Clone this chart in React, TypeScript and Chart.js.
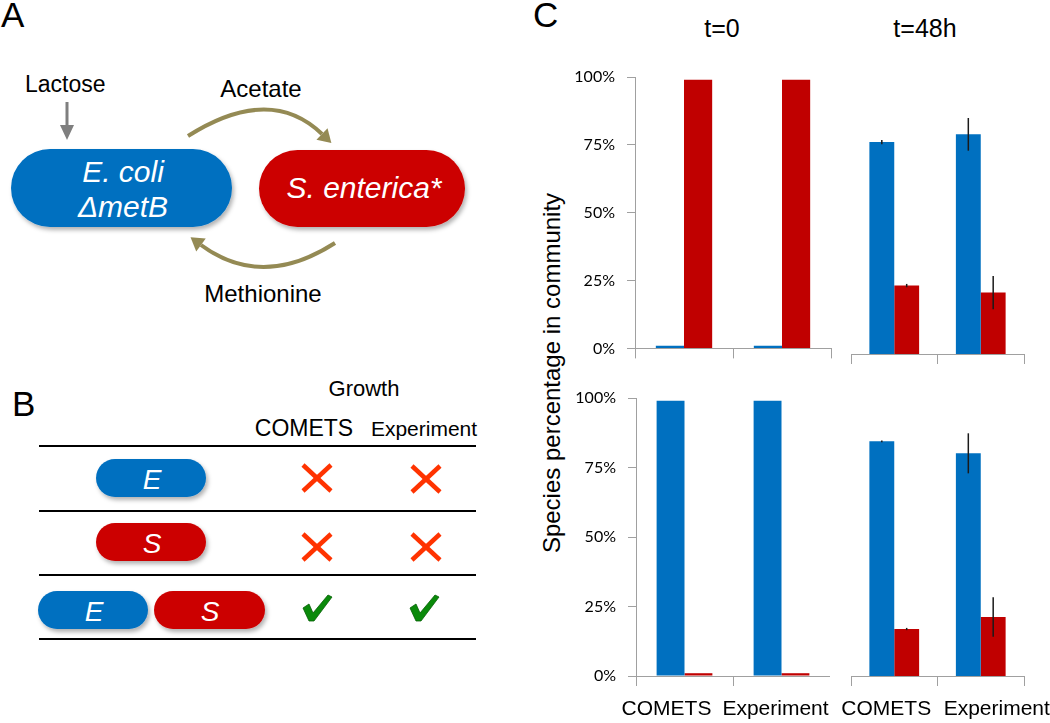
import React, { useEffect, useRef } from "react";
import { Chart, registerables } from "chart.js";

Chart.register(...registerables);

// ---------- DATA ----------
const categories = ["COMETS", "Experiment"];
const yTickValues = [0, 25, 50, 75, 100];

// Top row (initial ratio mostly S. enterica)
const topT0Ecoli = [1, 1];
const topT0Senterica = [99, 99];
const topT48Ecoli = [76.5, 79.3];
const topT48EcoliErr = [0.8, 5.9];
const topT48Senterica = [24.7, 22.2];
const topT48SentericaErr = [0.6, 6.0];

// Bottom row (initial ratio mostly E. coli)
const botT0Ecoli = [99, 99];
const botT0Senterica = [1, 1];
const botT48Ecoli = [84.4, 80.1];
const botT48EcoliErr = [0.3, 7.2];
const botT48Senterica = [16.9, 21.2];
const botT48SentericaErr = [0.4, 7.1];

const BLUE = "#0070C0";
const RED = "#C00000";
const AXIS = "#A0A0A0";
const FONT = '"Liberation Sans", Arial, Helvetica, sans-serif';

const errorBarPlugin = {
  id: "errorBars",
  afterDatasetsDraw(chart: any) {
    const ctx = chart.ctx;
    const y = chart.scales.y;
    chart.data.datasets.forEach((ds: any, i: number) => {
      const errs = ds.errors;
      if (!errs) return;
      const meta = chart.getDatasetMeta(i);
      meta.data.forEach((bar: any, j: number) => {
        const e = errs[j];
        if (!e) return;
        const v = ds.data[j];
        ctx.save();
        ctx.strokeStyle = "#1a1a1a";
        ctx.lineWidth = 1.5;
        ctx.beginPath();
        ctx.moveTo(bar.x, y.getPixelForValue(v + e));
        ctx.lineTo(bar.x, y.getPixelForValue(v - e));
        ctx.stroke();
        ctx.restore();
      });
    });
  },
};

// Category labels drawn from the x scale, each nudged slightly as in the original figure
const categoryLabelPlugin = {
  id: "categoryLabels",
  afterDraw(chart: any, _args: any, opts: any) {
    if (!opts || !opts.show) return;
    const x = chart.scales.x;
    const ctx = chart.ctx;
    const nudges: number[] = opts.nudges || [];
    ctx.save();
    ctx.font = `21px ${FONT}`;
    ctx.fillStyle = "#000";
    ctx.textAlign = "center";
    ctx.textBaseline = "top";
    (chart.data.labels as string[]).forEach((lab, i) => {
      ctx.fillText(lab, x.getPixelForValue(i) + (nudges[i] || 0), x.top + opts.gap);
    });
    ctx.restore();
  },
};

type PanelProps = {
  left: number;
  top: number;
  width: number;
  height: number;
  padLeft: number;
  padRight: number;
  padTop: number;
  yWidth: number;
  xHeight: number;
  showY: boolean;
  showXLabels: boolean;
  labelNudges?: number[];
  ecoli: number[];
  senterica: number[];
  ecoliErr?: number[];
  sentericaErr?: number[];
};

function BarPanel(p: PanelProps) {
  const ref = useRef<HTMLCanvasElement | null>(null);
  useEffect(() => {
    if (!ref.current) return;
    const chart = new Chart(ref.current, {
      type: "bar",
      data: {
        labels: categories,
        datasets: [
          {
            label: "E. coli",
            data: p.ecoli,
            backgroundColor: BLUE,
            errors: p.ecoliErr,
          } as any,
          {
            label: "S. enterica",
            data: p.senterica,
            backgroundColor: RED,
            errors: p.sentericaErr,
          } as any,
        ],
      },
      plugins: [errorBarPlugin, categoryLabelPlugin],
      options: {
        animation: false,
        responsive: false,
        maintainAspectRatio: false,
        layout: {
          padding: { left: p.padLeft, right: p.padRight, top: p.padTop, bottom: 0 },
        },
        datasets: { bar: { barPercentage: 1, categoryPercentage: 0.575 } },
        plugins: {
          legend: { display: false },
          tooltip: { enabled: false },
          title: { display: false },
          categoryLabels: { show: p.showXLabels, nudges: p.labelNudges, gap: 23 },
        },
        scales: {
          x: {
            type: "category",
            offset: true,
            grid: {
              offset: true,
              drawOnChartArea: false,
              drawTicks: true,
              tickLength: 10,
              color: AXIS,
              lineWidth: 1,
            },
            border: { display: true, color: AXIS, width: 1 },
            ticks: { display: false },
            afterFit: (s: any) => {
              s.height = p.xHeight;
            },
          },
          y: {
            display: p.showY,
            min: 0,
            max: 100,
            afterBuildTicks: (s: any) => {
              s.ticks = yTickValues.map((v) => ({ value: v }));
            },
            grid: {
              drawOnChartArea: false,
              drawTicks: true,
              tickLength: 8,
              color: AXIS,
            },
            border: { display: true, color: AXIS, width: 1 },
            ticks: {
              padding: 12,
              color: "#000",
              font: { family: "Lato, 'Liberation Sans', sans-serif", size: 16 },
              callback: (v: any) => v + "%",
            },
            afterFit: (s: any) => {
              s.width = p.yWidth;
            },
          },
        },
      } as any,
    });
    return () => chart.destroy();
  }, []);
  return (
    <canvas
      ref={ref}
      width={p.width}
      height={p.height}
      style={{
        position: "absolute",
        left: p.left,
        top: p.top,
        width: p.width,
        height: p.height,
      }}
    />
  );
}

function arrowHead(cx: number, cy: number, ex: number, ey: number, len: number, half: number) {
  const dx = ex - cx;
  const dy = ey - cy;
  const l = Math.hypot(dx, dy);
  const ux = dx / l;
  const uy = dy / l;
  const tx = ex + ux * len;
  const ty = ey + uy * len;
  const px = -uy * half;
  const py = ux * half;
  return `${tx},${ty} ${ex + px},${ey + py} ${ex - px},${ey - py}`;
}

function Pill(props: { x: number; y: number; w: number; h: number; fill: string }) {
  const { x, y, w, h, fill } = props;
  return <rect x={x} y={y} width={w} height={h} rx={h / 2} ry={h / 2} fill={fill} filter="url(#shadow)" />;
}

function Cross({ cx, cy }: { cx: number; cy: number }) {
  return (
    <g stroke="#FF3300" strokeWidth={4.5}>
      <line x1={cx - 14} y1={cy - 13} x2={cx + 14} y2={cy + 13} />
      <line x1={cx + 14} y1={cy - 13} x2={cx - 14} y2={cy + 13} />
    </g>
  );
}

function Check({ cx, cy }: { cx: number; cy: number }) {
  const pts = [
    [-14, 0],
    [-8, -4],
    [-4, 5],
    [11, -13],
    [15, -11],
    [-3, 13],
    [-8, 13],
  ]
    .map(([a, b]) => `${cx + a},${cy + b}`)
    .join(" ");
  return <polygon points={pts} fill="#0A8A0A" stroke="#056005" strokeWidth={0.8} />;
}

function Diagram() {
  return (
    <svg
      width={1050}
      height={723}
      style={{ position: "absolute", left: 0, top: 0 }}
      fontFamily={FONT}
    >
      <defs>
        <filter id="shadow" x="-10%" y="-20%" width="125%" height="160%">
          <feDropShadow dx="2" dy="3" stdDeviation="2" floodColor="#000" floodOpacity="0.3" />
        </filter>
      </defs>

      {/* Panel labels */}
      <text x={1} y={27} fontSize={35}>A</text>
      <text x={12} y={416} fontSize={35}>B</text>
      <text x={533} y={27} fontSize={35}>C</text>

      {/* Panel A */}
      <text x={25} y={92} fontSize={23}>Lactose</text>
      <line x1={67} y1={102} x2={67} y2={127} stroke="#7F7F7F" strokeWidth={3} />
      <polygon points="60,125 74,125 67,140" fill="#7F7F7F" />

      <text x={261} y={97} fontSize={24} textAnchor="middle">Acetate</text>
      <path d="M188,136 Q270,84 322,134" fill="none" stroke="#948A54" strokeWidth={4} />
      <polygon points={arrowHead(270, 84, 322, 134, 13, 8)} fill="#948A54" />

      <path d="M335,243 Q262,290 201,245" fill="none" stroke="#948A54" strokeWidth={4} />
      <polygon points={arrowHead(262, 290, 201, 245, 13, 8)} fill="#948A54" />
      <text x={263} y={302} fontSize={24} textAnchor="middle">Methionine</text>

      <Pill x={11} y={149} w={221} h={78} fill="#0070C0" />
      <Pill x={259} y={150} w={206} h={77} fill="#CC0000" />
      <text x={123} y={182} fontSize={30} fontStyle="italic" fill="#fff" textAnchor="middle">E. coli</text>
      <text x={123} y={217} fontSize={30} fontStyle="italic" fill="#fff" textAnchor="middle">ΔmetB</text>
      <text x={364} y={198} fontSize={30} fontStyle="italic" fill="#fff" textAnchor="middle">S. enterica*</text>

      {/* Panel B */}
      <text x={364} y={396} fontSize={22} textAnchor="middle">Growth</text>
      <text x={304} y={436} fontSize={23} textAnchor="middle">COMETS</text>
      <text x={424} y={436} fontSize={21} textAnchor="middle">Experiment</text>
      {[446, 511, 575, 639].map((y) => (
        <line key={y} x1={39} y1={y} x2={476} y2={y} stroke="#000" strokeWidth={2} />
      ))}

      <Pill x={96} y={459} w={110} h={38} fill="#0070C0" />
      <text x={152} y={489} fontSize={28} fontStyle="italic" fill="#fff" textAnchor="middle">E</text>
      <Pill x={96} y={523} w={110} h={38} fill="#CC0000" />
      <text x={152} y={553} fontSize={28} fontStyle="italic" fill="#fff" textAnchor="middle">S</text>
      <Pill x={38} y={591} w={110} h={38} fill="#0070C0" />
      <text x={94} y={621} fontSize={28} fontStyle="italic" fill="#fff" textAnchor="middle">E</text>
      <Pill x={154} y={591} w={111} h={38} fill="#CC0000" />
      <text x={210} y={621} fontSize={28} fontStyle="italic" fill="#fff" textAnchor="middle">S</text>

      <Cross cx={317} cy={478} />
      <Cross cx={426} cy={479} />
      <Cross cx={317} cy={547} />
      <Cross cx={426} cy={547} />
      <Check cx={317} cy={608} />
      <Check cx={424} cy={608} />

      {/* Panel C titles */}
      <text x={722} y={37} fontSize={25} textAnchor="middle">t=0</text>
      <text x={925} y={37} fontSize={25} textAnchor="middle">t=48h</text>
      <text transform="translate(560,373) rotate(-90)" fontSize={24} textAnchor="middle">
        Species percentage in community
      </text>
    </svg>
  );
}

export default function App() {
  return (
    <div
      style={{
        position: "absolute",
        left: 0,
        top: 0,
        width: 1050,
        height: 723,
        background: "#fff",
        overflow: "hidden",
      }}
    >
      <Diagram />
      <BarPanel
        left={555} top={50} width={290} height={320}
        padLeft={0} padRight={14} padTop={27} yWidth={80} xHeight={16}
        showY={true} showXLabels={false}
        ecoli={topT0Ecoli} senterica={topT0Senterica}
      />
      <BarPanel
        left={845} top={50} width={205} height={320}
        padLeft={6} padRight={26} padTop={27} yWidth={0} xHeight={16}
        showY={false} showXLabels={false}
        ecoli={topT48Ecoli} senterica={topT48Senterica}
        ecoliErr={topT48EcoliErr} sentericaErr={topT48SentericaErr}
      />
      <BarPanel
        left={556} top={372} width={274} height={351}
        padLeft={0} padRight={-1} padTop={26} yWidth={80} xHeight={47}
        showY={true} showXLabels={true} labelNudges={[-18, -6]}
        ecoli={botT0Ecoli} senterica={botT0Senterica}
      />
      <BarPanel
        left={832} top={372} width={218} height={351}
        padLeft={19} padRight={26} padTop={26} yWidth={0} xHeight={47}
        showY={false} showXLabels={true} labelNudges={[-8, 16]}
        ecoli={botT48Ecoli} senterica={botT48Senterica}
        ecoliErr={botT48EcoliErr} sentericaErr={botT48SentericaErr}
      />
    </div>
  );
}
